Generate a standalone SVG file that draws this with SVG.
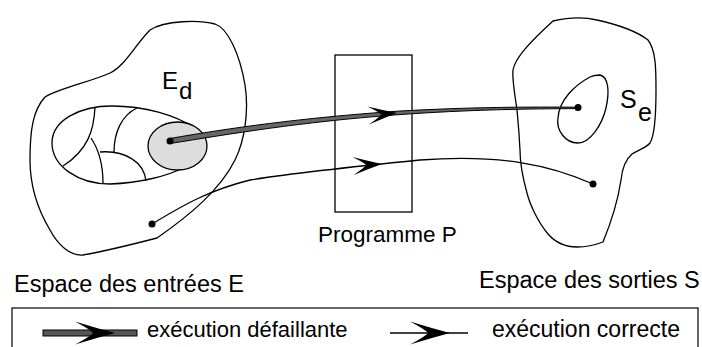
<svg xmlns="http://www.w3.org/2000/svg" width="702" height="347" viewBox="0 0 702 347">
<style>
.ln{fill:none;stroke:#000;stroke-width:1.3}
.t{font-family:"Liberation Sans",Arial,sans-serif;fill:#000}
.dot{fill:#000}
</style>
<defs>
<path id="ah" d="M0,0 Q-14,-4 -29,-9 Q-17,-2 -16,0 Q-17,2 -29,9 Q-14,4 0,0 Z" fill="#000"/>
</defs>
<rect width="702" height="347" fill="#fff"/>
<g id="espace-entrees">
<path class="ln" d="M150,30 C165,20 200,20 215,24 C228,28 240,55 245,85 C249,110 245,140 235,160 C220,190 190,215 157,238 C130,245 100,252 83,255 C70,256 58,245 50,230 C38,210 30,185 30,160 C30,130 33,110 45,97 C60,88 90,82 110,73 C125,66 135,45 150,30 Z"/>
<path class="ln" fill="#fff" d="M52,143 C52,120 80,106 112,106 C145,106 175,115 195,128 C210,140 205,158 185,167 C168,176 140,183 110,184 C78,184 52,166 52,143 Z"/>
<path class="ln" d="M95,107 C94,130 88,150 63,166"/>
<path class="ln" d="M91,138 C99,150 103,165 103,183"/>
<path class="ln" d="M137,108 C122,115 114,132 114,152"/>
<path class="ln" d="M100,152 C125,150 144,162 146,181"/>
<ellipse cx="177.5" cy="146" rx="29.5" ry="24" fill="#dddddd" stroke="#000" stroke-width="1.3"/>
<text class="t" x="162" y="89" font-size="24">E</text>
<text class="t" x="179" y="99" font-size="24">d</text>
<text class="t" x="14" y="292" font-size="23.5">Espace des entrées E</text>
</g>
<g id="programme">
<rect x="335" y="55" width="77" height="157" class="ln"/>
<text class="t" x="318" y="242" font-size="22.5">Programme P</text>
</g>
<g id="espace-sorties">
<path class="ln" d="M553,21 C570,17 585,17 597,20 C615,24 635,30 648,40 C656,50 656,70 656,90 C656,110 655,135 650,143 C646,148 638,150 632,154 C625,160 622,170 621,180 C618,200 610,225 603,242 C595,245 585,247 577,247 C565,247 555,242 548,234 C538,222 530,205 527,193 C522,175 520,160 520,150 C519,130 518,120 517,110 C515,95 512,80 513,70 C515,58 530,42 553,21 Z"/>
<path class="ln" d="M600,75 C608,77 610,90 606,108 C602,125 590,143 578,143 C565,143 556,130 558,118 C559,100 575,85 590,77 C594,75 597,75 600,75 Z"/>
<text class="t" x="620" y="108" font-size="25">S</text>
<text class="t" x="638" y="121" font-size="25">e</text>
<text class="t" x="479" y="288" font-size="23.5">Espace des sorties S</text>
</g>
<g id="connecteurs">
<path d="M170,138.5 C230,128 300,118 397,111.2 C470,107 530,106.8 578,107.2 L578,108.6 C530,108.8 470,109.5 397,114.8 C300,122 230,134 170,143.5 Z" fill="#666" stroke="#000" stroke-width="1"/>
<use href="#ah" transform="translate(397,113) rotate(-5)"/>
<circle class="dot" cx="170" cy="141" r="3.5"/>
<circle class="dot" cx="578" cy="107.5" r="3.5"/>
<path class="ln" d="M152,224 C185,204 210,190 250,180 C300,172 360,166 420,160 C500,154 550,165 593,184"/>
<use href="#ah" transform="translate(382,164) rotate(-4)"/>
<circle class="dot" cx="152" cy="224" r="3.5"/>
<circle class="dot" cx="593" cy="184" r="3.5"/>
</g>
<g id="legende">
<rect x="12" y="308" width="686" height="60" fill="none" stroke="#000" stroke-width="1.2"/>
<rect x="43" y="330" width="94" height="6" fill="#555" stroke="#000" stroke-width="1"/>
<use href="#ah" transform="translate(115,333) scale(1.38,1.28)"/>
<text class="t" x="147" y="337" font-size="22">exécution défaillante</text>
<line x1="390" y1="333" x2="468" y2="333" stroke="#000" stroke-width="1.3"/>
<use href="#ah" transform="translate(450,333) scale(1.38,1.28)"/>
<text class="t" x="492" y="337" font-size="23">exécution correcte</text>
</g>
</svg>
